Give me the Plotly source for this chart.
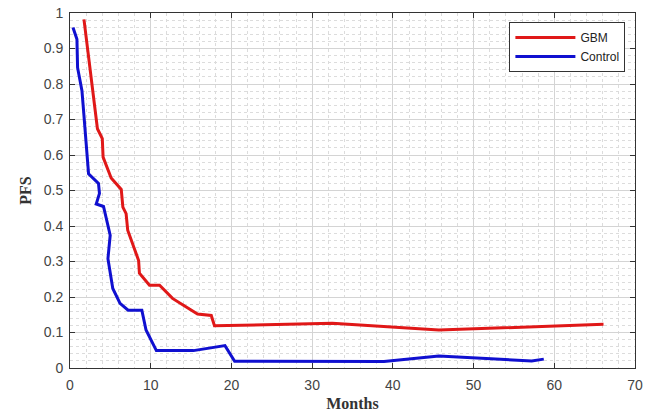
import plotly.graph_objects as go

gbm_months = [1.73, 3.4, 4.0, 4.1, 5.1, 6.35, 6.55, 6.95, 7.15, 8.2, 8.5, 8.6, 9.85, 11.1, 12.7, 14.4, 15.8, 17.5, 17.9, 32.5, 45.7, 66.1]
gbm_pfs = [0.982, 0.674, 0.646, 0.594, 0.535, 0.503, 0.453, 0.435, 0.388, 0.323, 0.303, 0.267, 0.233, 0.233, 0.196, 0.172, 0.152, 0.148, 0.119, 0.126, 0.107, 0.123]

ctrl_months = [0.37, 0.86, 0.94, 1.48, 1.68, 2.3, 3.53, 3.65, 3.25, 4.15, 4.98, 4.7, 5.3, 6.2, 7.2, 8.9, 9.42, 10.7, 15.3, 19.2, 20.4, 38.9, 45.7, 57.2, 58.7]
ctrl_pfs = [0.959, 0.926, 0.846, 0.781, 0.725, 0.547, 0.52, 0.492, 0.462, 0.455, 0.374, 0.308, 0.224, 0.182, 0.163, 0.163, 0.107, 0.049, 0.049, 0.063, 0.019, 0.018, 0.034, 0.02, 0.025]

x_ticks = [0, 10, 20, 30, 40, 50, 60, 70]
y_ticks = [0, 0.1, 0.2, 0.3, 0.4, 0.5, 0.6, 0.7, 0.8, 0.9, 1]
y_tick_labels = ["0", "0.1", "0.2", "0.3", "0.4", "0.5", "0.6", "0.7", "0.8", "0.9", "1"]

fig = go.Figure()
fig.add_trace(go.Scatter(x=gbm_months, y=gbm_pfs, mode="lines", name="GBM",
                         line=dict(color="#e01818", width=3)))
fig.add_trace(go.Scatter(x=ctrl_months, y=ctrl_pfs, mode="lines", name="Control",
                         line=dict(color="#1010d0", width=3)))

axis_common = dict(
    showline=True, linecolor="#333333", linewidth=1, mirror="ticks",
    ticks="inside", ticklen=5, tickcolor="#333333",
    showgrid=True, gridcolor="#d4d4d4", gridwidth=1,
    zeroline=False, automargin=False,
    tickfont=dict(family="Arial, Liberation Sans", size=14, color="#444444"),
    minor=dict(showgrid=True, gridcolor="#dcdcdc", griddash="dot", gridwidth=1, ticks=""),
)

fig.update_xaxes(range=[0, 70], tickvals=x_ticks, minor_dtick=2, ticklabelstandoff=4,
                 title=dict(text="<b>Months</b>", standoff=6,
                            font=dict(family="Liberation Serif, Times New Roman", size=16, color="#333333")),
                 **axis_common)
fig.update_yaxes(range=[0, 1], tickvals=y_ticks, ticktext=y_tick_labels, minor_dtick=0.02,
                 ticklabelstandoff=3,
                 title=dict(text="<b>PFS</b>", standoff=8,
                            font=dict(family="Liberation Serif, Times New Roman", size=16, color="#333333")),
                 **axis_common)

fig.update_layout(
    width=645, height=414,
    margin=dict(l=70, r=10, t=13, b=46),
    paper_bgcolor="white", plot_bgcolor="white",
    legend=dict(x=0.983, xanchor="right", y=0.975, yanchor="top",
                bgcolor="white", bordercolor="#333333", borderwidth=1,
                font=dict(family="Arial, Liberation Sans", size=12, color="#222222"),
                itemwidth=60, tracegroupgap=0),
    showlegend=True,
)

fig.write_html("out.html")
